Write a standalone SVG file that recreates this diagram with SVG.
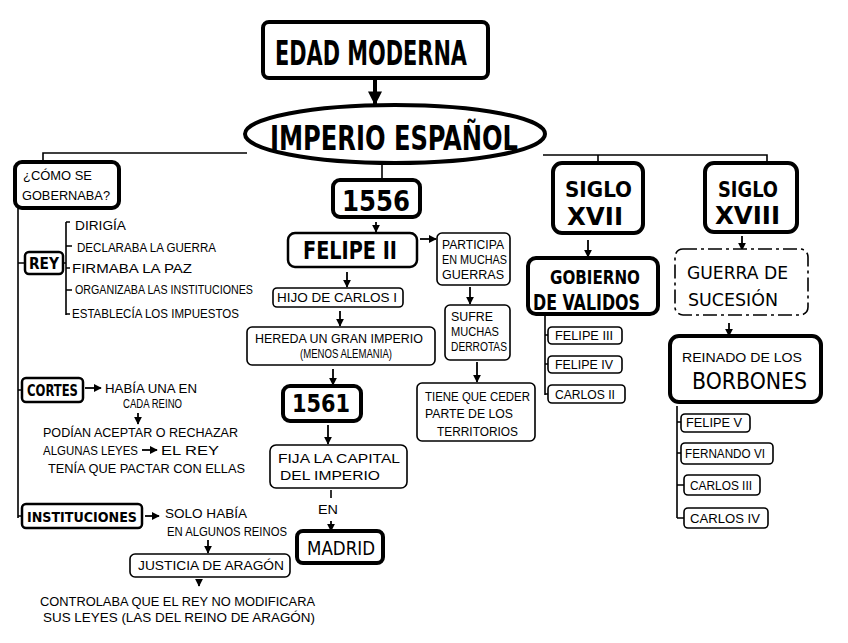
<svg xmlns="http://www.w3.org/2000/svg" width="848" height="643" viewBox="0 0 848 643">
<style>
.bk{fill:#fff;stroke:#000;stroke-width:4}
.bm{fill:#fff;stroke:#000;stroke-width:2.5}
.bt{fill:#fff;stroke:#000;stroke-width:1.6}
.bd{fill:#fff;stroke:#000;stroke-width:1.6;stroke-dasharray:14 4 3 4}
.ln{fill:none;stroke:#000;stroke-width:1.6}
.ar{fill:none;stroke:#000;stroke-width:1.8;marker-end:url(#ah)}
.big{font-family:"DejaVu Sans Condensed","DejaVu Sans",sans-serif;font-weight:bold;fill:#000}
.med{font-family:"DejaVu Sans Condensed","DejaVu Sans",sans-serif;fill:#000}
.sm{font-family:"Liberation Sans",Arial,sans-serif;font-size:12px;fill:#000}
</style>
<defs>
<marker id="ah" viewBox="0 0 10 10" refX="9" refY="5" markerWidth="8" markerHeight="8" markerUnits="userSpaceOnUse" orient="auto">
<path d="M0,0 L10,5 L0,10 z" fill="#000"/>
</marker>
<marker id="ahb" viewBox="0 0 10 10" refX="9" refY="5" markerWidth="14" markerHeight="14" markerUnits="userSpaceOnUse" orient="auto">
<path d="M0,0 L10,5 L0,10 z" fill="#000"/>
</marker>
</defs>
<rect width="848" height="643" fill="#fff"/>

<g id="edad-moderna">
<rect class="bk" x="263" y="22" width="225" height="56" rx="6"/>
<text class="big" x="275" y="65" font-size="34" textLength="192" lengthAdjust="spacingAndGlyphs">EDAD MODERNA</text>
</g>

<g id="imperio-espanol">
<ellipse class="bk" cx="395" cy="134" rx="150" ry="29"/>
<text class="big" x="270" y="150" font-size="34" textLength="248" lengthAdjust="spacingAndGlyphs">IMPERIO ESPAÑOL</text>
</g>

<g id="connectors">
<path d="M375,80 L375,104" fill="none" stroke="#000" stroke-width="4" marker-end="url(#ahb)"/>
<path class="ln" d="M43,162 L43,153 L247,153 M543,155 L598,155 L767,155 L767,163 M598,155 L598,163"/>
<path class="ln" d="M382,163 L382,180"/>
<path class="ln" d="M18,208 L18,518 M18,263 Q22,263 25,263 M18,390 L22,390 M18,516 L22,516"/>
<path class="ln" d="M63,263 L66,263 M66,222 L66,315 M66,222 L70,222 M66,246 L72,246 M66,268 L70,268 M66,290 L72,290 M66,314 L70,314"/>
<path class="ar" d="M85,388 L101,388"/>
<path class="ar" d="M138,413 L138,424"/>
<path class="ar" d="M142,450 L157,450"/>
<path class="ar" d="M145,516 L159,516"/>
<path class="ar" d="M208,540 L208,553"/>
<path class="ar" d="M199,579 L199,586"/>
<path class="ar" d="M376,222 L376,232"/>
<path class="ar" d="M420,239 L436,239"/>
<path class="ar" d="M470,287 L470,304"/>
<path class="ar" d="M477,362 L477,382"/>
<path class="ar" d="M347,272 L347,287"/>
<path class="ar" d="M340,311 L340,326"/>
<path class="ar" d="M333,369 L333,385"/>
<path class="ar" d="M328,425 L328,444"/>
<path class="ln" d="M331,490 L331,498"/>
<path class="ar" d="M331,521 L331,531"/>
<path class="ar" d="M588,240 L588,257"/>
<path class="ln" d="M545,315 L545,395 M545,335 L548,335 M545,364 L548,364 M545,394 L548,394"/>
<path class="ar" d="M742,236 L742,250"/>
<path class="ar" d="M729,323 L729,336"/>
<path class="ln" d="M677,406 L677,518 M677,422 L681,422 M677,453 L681,453 M677,485 L684,485 M677,518 L684,518"/>
</g>

<g id="como-se-gobernaba">
<rect class="bk" x="15" y="162" width="104" height="46" rx="7"/>
<text class="sm" x="23" y="180" textLength="69" lengthAdjust="spacingAndGlyphs">¿CÓMO SE</text>
<text class="sm" x="22" y="200" textLength="88" lengthAdjust="spacingAndGlyphs">GOBERNABA?</text>
</g>

<g id="rey">
<rect class="bm" x="25" y="252" width="38" height="22" rx="4"/>
<text class="big" x="29" y="269" font-size="15" textLength="30" lengthAdjust="spacingAndGlyphs">REY</text>
<text class="sm" x="75" y="230" textLength="51" lengthAdjust="spacingAndGlyphs">DIRIGÍA</text>
<text class="sm" x="77" y="252" textLength="139" lengthAdjust="spacingAndGlyphs">DECLARABA LA GUERRA</text>
<text class="sm" x="72" y="273" textLength="120" lengthAdjust="spacingAndGlyphs">FIRMABA LA PAZ</text>
<text class="sm" x="75" y="294" textLength="178" lengthAdjust="spacingAndGlyphs">ORGANIZABA LAS INSTITUCIONES</text>
<text class="sm" x="72" y="318" textLength="167" lengthAdjust="spacingAndGlyphs">ESTABLECÍA LOS IMPUESTOS</text>
</g>

<g id="cortes">
<rect class="bm" x="22" y="378" width="61" height="24" rx="4"/>
<text class="big" x="27" y="396" font-size="15" textLength="51" lengthAdjust="spacingAndGlyphs">CORTES</text>
</g>
<g id="habia-una">
<text class="sm" x="105" y="393" textLength="92" lengthAdjust="spacingAndGlyphs">HABÍA UNA EN</text>
<text class="sm" x="123" y="408" textLength="59" lengthAdjust="spacingAndGlyphs">CADA REINO</text>
</g>
<g id="podian">
<text class="sm" x="43" y="437" textLength="195" lengthAdjust="spacingAndGlyphs">PODÍAN ACEPTAR O RECHAZAR</text>
<text class="sm" x="43" y="455" textLength="95" lengthAdjust="spacingAndGlyphs">ALGUNAS LEYES</text>
<text class="sm" x="161" y="455" textLength="58" lengthAdjust="spacingAndGlyphs">EL REY</text>
<text class="sm" x="48" y="473" textLength="197" lengthAdjust="spacingAndGlyphs">TENÍA QUE PACTAR CON ELLAS</text>
</g>

<g id="instituciones">
<rect class="bm" x="22" y="504" width="120" height="24" rx="4"/>
<text class="big" x="27" y="522" font-size="14" textLength="110" lengthAdjust="spacingAndGlyphs">INSTITUCIONES</text>
</g>
<g id="solo-habia">
<text class="sm" x="165" y="518" textLength="82" lengthAdjust="spacingAndGlyphs">SOLO HABÍA</text>
<text class="sm" x="167" y="536" textLength="120" lengthAdjust="spacingAndGlyphs">EN ALGUNOS REINOS</text>
</g>
<g id="justicia">
<rect class="bt" x="130" y="554" width="160" height="23" rx="5"/>
<text class="sm" x="138" y="570" textLength="146" lengthAdjust="spacingAndGlyphs">JUSTICIA DE ARAGÓN</text>
</g>
<g id="controlaba">
<text class="sm" x="40" y="606" textLength="275" lengthAdjust="spacingAndGlyphs">CONTROLABA QUE EL REY NO MODIFICARA</text>
<text class="sm" x="43" y="622" textLength="272" lengthAdjust="spacingAndGlyphs">SUS LEYES (LAS DEL REINO DE ARAGÓN)</text>
</g>

<g id="n1556">
<rect class="bk" x="333" y="180" width="87" height="37" rx="7"/>
<text class="big" x="342" y="211" font-size="28" textLength="68" lengthAdjust="spacingAndGlyphs">1556</text>
</g>
<g id="felipe-ii">
<rect class="bm" x="288" y="233" width="129" height="34" rx="7"/>
<text class="big" x="303" y="259" font-size="25" textLength="94" lengthAdjust="spacingAndGlyphs">FELIPE II</text>
</g>
<g id="participa">
<rect class="bt" x="437" y="233" width="73" height="52" rx="5"/>
<text class="sm" x="442" y="249" textLength="62" lengthAdjust="spacingAndGlyphs">PARTICIPA</text>
<text class="sm" x="442" y="264" textLength="65" lengthAdjust="spacingAndGlyphs">EN MUCHAS</text>
<text class="sm" x="442" y="279" textLength="62" lengthAdjust="spacingAndGlyphs">GUERRAS</text>
</g>
<g id="sufre">
<rect class="bt" x="445" y="305" width="65" height="55" rx="5"/>
<text class="sm" x="451" y="321" textLength="42" lengthAdjust="spacingAndGlyphs">SUFRE</text>
<text class="sm" x="451" y="336" textLength="48" lengthAdjust="spacingAndGlyphs">MUCHAS</text>
<text class="sm" x="451" y="351" textLength="56" lengthAdjust="spacingAndGlyphs">DERROTAS</text>
</g>
<g id="tiene">
<rect class="bt" x="417" y="383" width="118" height="58" rx="5"/>
<text class="sm" x="425" y="401" textLength="105" lengthAdjust="spacingAndGlyphs">TIENE QUE CEDER</text>
<text class="sm" x="425" y="418" textLength="88" lengthAdjust="spacingAndGlyphs">PARTE DE LOS</text>
<text class="sm" x="437" y="436" textLength="81" lengthAdjust="spacingAndGlyphs">TERRITORIOS</text>
</g>
<g id="hijo">
<rect class="bt" x="273" y="288" width="130" height="19" rx="4"/>
<text class="sm" x="277" y="302" textLength="120" lengthAdjust="spacingAndGlyphs">HIJO DE CARLOS I</text>
</g>
<g id="hereda">
<rect class="bt" x="247" y="327" width="188" height="38" rx="5"/>
<text class="sm" x="255" y="343" textLength="168" lengthAdjust="spacingAndGlyphs">HEREDA UN GRAN IMPERIO</text>
<text class="sm" x="300" y="358" textLength="92" lengthAdjust="spacingAndGlyphs">(MENOS ALEMANIA)</text>
</g>
<g id="n1561">
<rect class="bk" x="283" y="386" width="78" height="35" rx="7"/>
<text class="big" x="292" y="412" font-size="25" textLength="58" lengthAdjust="spacingAndGlyphs">1561</text>
</g>
<g id="fija">
<rect class="bt" x="270" y="445" width="137" height="43" rx="6"/>
<text class="sm" x="278" y="463" textLength="122" lengthAdjust="spacingAndGlyphs">FIJA LA CAPITAL</text>
<text class="sm" x="280" y="480" textLength="100" lengthAdjust="spacingAndGlyphs">DEL IMPERIO</text>
</g>
<text class="sm" x="318" y="514" textLength="20" lengthAdjust="spacingAndGlyphs">EN</text>
<g id="madrid">
<rect class="bk" x="297" y="531" width="86" height="32" rx="6"/>
<text class="med" x="307" y="555" font-size="19" textLength="68" lengthAdjust="spacingAndGlyphs">MADRID</text>
</g>

<g id="siglo-xvii">
<rect class="bk" x="553" y="163" width="90" height="70" rx="9"/>
<text class="big" x="565" y="197" font-size="22" textLength="67" lengthAdjust="spacingAndGlyphs">SIGLO</text>
<text class="big" x="567" y="225" font-size="24" textLength="56" lengthAdjust="spacingAndGlyphs">XVII</text>
</g>
<g id="gobierno-validos">
<rect class="bk" x="528" y="258" width="130" height="56" rx="8"/>
<text class="big" x="550" y="284" font-size="19" textLength="90" lengthAdjust="spacingAndGlyphs">GOBIERNO</text>
<text class="big" x="533" y="310" font-size="22" textLength="107" lengthAdjust="spacingAndGlyphs">DE VALIDOS</text>
</g>
<g id="felipe-iii">
<rect class="bt" x="548" y="327" width="74" height="17" rx="4"/>
<text class="sm" x="555" y="340" font-size="10" textLength="58" lengthAdjust="spacingAndGlyphs">FELIPE III</text>
</g>
<g id="felipe-iv">
<rect class="bt" x="548" y="356" width="74" height="17" rx="4"/>
<text class="sm" x="555" y="369" font-size="10" textLength="58" lengthAdjust="spacingAndGlyphs">FELIPE IV</text>
</g>
<g id="carlos-ii">
<rect class="bt" x="548" y="385" width="77" height="18" rx="4"/>
<text class="sm" x="555" y="399" font-size="10" textLength="60" lengthAdjust="spacingAndGlyphs">CARLOS II</text>
</g>

<g id="siglo-xviii">
<rect class="bk" x="705" y="163" width="92" height="69" rx="9"/>
<text class="big" x="718" y="197" font-size="22" textLength="60" lengthAdjust="spacingAndGlyphs">SIGLO</text>
<text class="big" x="715" y="224" font-size="24" textLength="65" lengthAdjust="spacingAndGlyphs">XVIII</text>
</g>
<g id="guerra-sucesion">
<rect class="bd" x="675" y="249" width="133" height="66" rx="8"/>
<text class="med" x="687" y="279" font-size="17" textLength="101" lengthAdjust="spacingAndGlyphs">GUERRA DE</text>
<text class="med" x="688" y="306" font-size="17" textLength="90" lengthAdjust="spacingAndGlyphs">SUCESIÓN</text>
</g>
<g id="reinado-borbones">
<rect class="bk" x="670" y="336" width="151" height="66" rx="9"/>
<text class="sm" x="682" y="362" font-size="12" textLength="120" lengthAdjust="spacingAndGlyphs">REINADO DE LOS</text>
<text class="med" x="692" y="389" font-size="23" textLength="115" lengthAdjust="spacingAndGlyphs">BORBONES</text>
</g>
<g id="felipe-v">
<rect class="bt" x="681" y="414" width="69" height="18" rx="4"/>
<text class="sm" x="686" y="427" font-size="10" textLength="56" lengthAdjust="spacingAndGlyphs">FELIPE V</text>
</g>
<g id="fernando-vi">
<rect class="bt" x="681" y="443" width="92" height="21" rx="4"/>
<text class="sm" x="685" y="458" font-size="10" textLength="80" lengthAdjust="spacingAndGlyphs">FERNANDO VI</text>
</g>
<g id="carlos-iii">
<rect class="bt" x="684" y="475" width="76" height="20" rx="4"/>
<text class="sm" x="690" y="490" font-size="10" textLength="62" lengthAdjust="spacingAndGlyphs">CARLOS III</text>
</g>
<g id="carlos-iv">
<rect class="bt" x="684" y="508" width="84" height="20" rx="4"/>
<text class="sm" x="690" y="523" font-size="10" textLength="70" lengthAdjust="spacingAndGlyphs">CARLOS IV</text>
</g>
</svg>
